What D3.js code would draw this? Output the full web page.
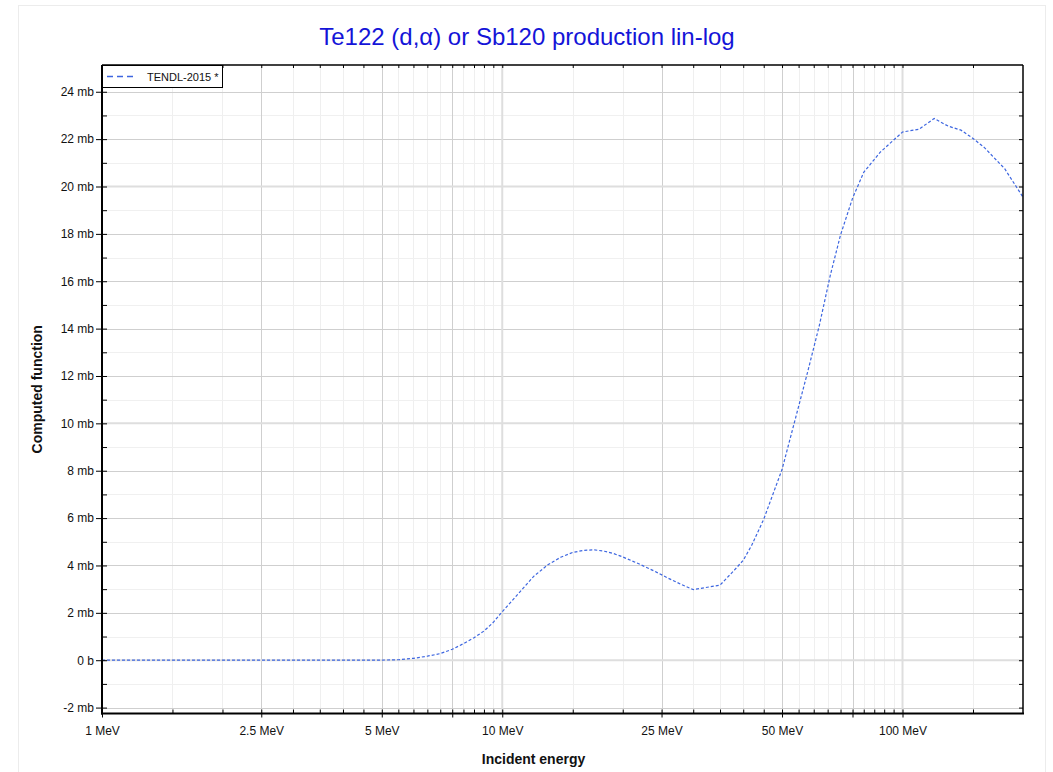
<!DOCTYPE html>
<html><head><meta charset="utf-8">
<script src="https://cdn.jsdelivr.net/npm/d3@7"></script>
<style>
body{margin:0;background:#fff;}
text{font-family:"Liberation Sans",Arial,Helvetica,sans-serif;}
</style>
</head><body>
<svg id="chart" width="1053" height="772"></svg>
<script>
// ---- data ----
const energyMeV = [1, 2, 3, 4, 5, 5.5, 6, 6.5, 7, 7.5, 8, 8.5, 9, 9.5, 10, 11, 12, 13, 14, 15, 16, 17, 18, 19, 20, 22, 24, 26, 28, 30, 35, 38, 40, 42, 45, 50, 54, 58, 62, 66, 70, 75, 80, 88, 100, 110, 120, 130, 140, 150, 160, 180, 200];
const crossSectionMb = [0, 0, 0, 0, 0.005, 0.02, 0.08, 0.17, 0.28, 0.46, 0.7, 0.95, 1.23, 1.6, 2.05, 2.83, 3.55, 4.03, 4.35, 4.55, 4.64, 4.66, 4.6, 4.5, 4.36, 4.06, 3.76, 3.46, 3.2, 2.98, 3.17, 3.8, 4.22, 4.85, 5.95, 8.05, 10.2, 12.2, 14.15, 16.25, 17.95, 19.5, 20.6, 21.45, 22.3, 22.42, 22.87, 22.55, 22.38, 22.03, 21.65, 20.75, 19.55];
const seriesName = "TENDL-2015 *";
const chartTitle = "Te122 (d,\u03b1) or Sb120 production lin-log";
const xTitle = "Incident energy";
const yTitle = "Computed function";

const xMajorTicks  = [1, 2.5, 5, 7.5, 10, 25, 50, 75, 100];
const xMajorLabels = ["1 MeV", "2.5 MeV", "5 MeV", "", "10 MeV", "25 MeV", "50 MeV", "", "100 MeV"];
const xMinorTicks  = [1.5, 2, 3, 3.5, 4, 4.5, 5.5, 6, 6.5, 7, 8, 8.5, 9, 9.5, 15, 20, 30, 35, 40, 45, 55, 60, 65, 70, 80, 85, 90, 95, 150];
const xDecadeLines = [10, 100];

const yMajorTicks  = [-2, 0, 2, 4, 6, 8, 10, 12, 14, 16, 18, 20, 22, 24];
const yMajorLabels = ["-2 mb", "0 b", "2 mb", "4 mb", "6 mb", "8 mb", "10 mb", "12 mb", "14 mb", "16 mb", "18 mb", "20 mb", "22 mb", "24 mb"];
const yMinorTicks  = [-1, 1, 3, 5, 7, 9, 11, 13, 15, 17, 19, 21, 23];
const yHeavyLines  = [0, 10, 20];

// ---- layout ----
const W = 1053, H = 772;
const L = 102, R = 1023, T = 65, B = 713.5;
const svg = d3.select("#chart");

const x = d3.scaleLog().domain([1, 200]).range([L, R]);
const y = d3.scaleLinear().domain([-2.25, 25.13]).range([B, T]);

// outer faint frame
svg.append("rect").attr("x", 18.5).attr("y", 5.5).attr("width", 1027).attr("height", 800)
  .attr("fill", "none").attr("stroke", "#ececec").attr("stroke-width", 1);

svg.append("defs").append("clipPath").attr("id", "plotclip")
  .append("rect").attr("x", L).attr("y", T).attr("width", R - L).attr("height", B - T);

const grid = svg.append("g").attr("clip-path", "url(#plotclip)");
// minor grid
grid.selectAll(".gxm").data(xMinorTicks).join("line")
  .attr("x1", d => Math.round(x(d)) + 0.5).attr("x2", d => Math.round(x(d)) + 0.5)
  .attr("y1", T).attr("y2", B).attr("stroke", "#efefef");
grid.selectAll(".gym").data(yMinorTicks).join("line")
  .attr("y1", d => Math.round(y(d)) + 0.5).attr("y2", d => Math.round(y(d)) + 0.5)
  .attr("x1", L).attr("x2", R).attr("stroke", "#f0f0f0");
// major grid
grid.selectAll(".gx").data(xMajorTicks.filter(d => !xDecadeLines.includes(d))).join("line")
  .attr("x1", d => Math.round(x(d)) + 0.5).attr("x2", d => Math.round(x(d)) + 0.5)
  .attr("y1", T).attr("y2", B).attr("stroke", "#cfcfcf");
grid.selectAll(".gy").data(yMajorTicks.filter(d => !yHeavyLines.includes(d))).join("line")
  .attr("y1", d => Math.round(y(d)) + 0.5).attr("y2", d => Math.round(y(d)) + 0.5)
  .attr("x1", L).attr("x2", R).attr("stroke", "#cfcfcf");
// heavy grid
grid.selectAll(".gxd").data(xDecadeLines).join("line")
  .attr("x1", d => x(d)).attr("x2", d => x(d))
  .attr("y1", T).attr("y2", B).attr("stroke", "#dedede").attr("stroke-width", 2);
grid.selectAll(".gyh").data(yHeavyLines).join("line")
  .attr("y1", d => y(d)).attr("y2", d => y(d))
  .attr("x1", L).attr("x2", R).attr("stroke", "#dedede").attr("stroke-width", 2);

// curve
const line = d3.line().x((d, i) => x(energyMeV[i])).y(d => y(d));
svg.append("g").attr("clip-path", "url(#plotclip)")
  .append("path").datum(crossSectionMb).attr("d", line)
  .attr("fill", "none").attr("stroke", "#3d66e0").attr("stroke-width", 1.2)
  .attr("stroke-dasharray", "3,2");

// axes
const allX = xMajorTicks.concat(xMinorTicks);
const allY = yMajorTicks.concat(yMinorTicks);
function clean(g){ g.select(".domain").remove(); g.selectAll("text").remove(); }

// bottom: major outward + labels
const xb = svg.append("g").attr("transform", `translate(0,${B})`)
  .call(d3.axisBottom(x).tickValues(xMajorTicks).tickSize(4).tickPadding(9)
    .tickFormat((d) => xMajorLabels[xMajorTicks.indexOf(d)]));
xb.select(".domain").remove();
xb.selectAll("text").attr("font-size", "12px").attr("fill", "#111")
  .style("font-family", "'Liberation Sans',Arial,sans-serif");
// bottom inward ticks
svg.append("g").attr("transform", `translate(0,${B})`)
  .call(d3.axisTop(x).tickValues(allX).tickSize(4).tickFormat("")).call(clean);
// top inward ticks
svg.append("g").attr("transform", `translate(0,${T})`)
  .call(d3.axisBottom(x).tickValues(allX).tickSize(3).tickFormat("")).call(clean);

// left: major outward + labels
const yl = svg.append("g").attr("transform", `translate(${L},0)`)
  .call(d3.axisLeft(y).tickValues(yMajorTicks).tickSize(6).tickPadding(2)
    .tickFormat(d => yMajorLabels[yMajorTicks.indexOf(d)]));
yl.select(".domain").remove();
yl.selectAll("text").attr("font-size", "12px").attr("fill", "#111")
  .style("font-family", "'Liberation Sans',Arial,sans-serif");
svg.append("g").attr("transform", `translate(${L},0)`)
  .call(d3.axisRight(y).tickValues(allY).tickSize(5).tickFormat("")).call(clean);
// right inward ticks
svg.append("g").attr("transform", `translate(${R},0)`)
  .call(d3.axisLeft(y).tickValues(allY).tickSize(4).tickFormat("")).call(clean);

// frame
svg.append("line").attr("x1", L).attr("x2", L).attr("y1", T).attr("y2", B + 1).attr("stroke", "#000").attr("stroke-width", 2);
svg.append("line").attr("x1", L - 1).attr("x2", R + 1).attr("y1", B).attr("y2", B).attr("stroke", "#000").attr("stroke-width", 2);
svg.append("line").attr("x1", L).attr("x2", R).attr("y1", T).attr("y2", T).attr("stroke", "#000").attr("stroke-width", 1.5);
svg.append("line").attr("x1", R).attr("x2", R).attr("y1", T).attr("y2", B).attr("stroke", "#000").attr("stroke-width", 1.5);

// legend
const lg = svg.append("g");
lg.append("rect").attr("x", L + 0.5).attr("y", T + 0.5).attr("width", 120).attr("height", 22)
  .attr("fill", "#fff").attr("stroke", "#000").attr("stroke-width", 1);
lg.append("line").attr("x1", L + 5).attr("x2", L + 32).attr("y1", T + 11.5).attr("y2", T + 11.5)
  .attr("stroke", "#3d66e0").attr("stroke-width", 1.6).attr("stroke-dasharray", "6,4");
lg.append("text").attr("x", L + 45).attr("y", T + 15.5).attr("font-size", "11px").attr("fill", "#111")
  .text(seriesName);

// titles
svg.append("text").attr("x", 527).attr("y", 45).attr("text-anchor", "middle")
  .attr("font-size", "24px").attr("fill", "#1414d8").text(chartTitle);
svg.append("text").attr("x", 533.5).attr("y", 764).attr("text-anchor", "middle")
  .attr("font-size", "14px").attr("font-weight", "bold").attr("fill", "#111").text(xTitle);
svg.append("text").attr("transform", `translate(42,${(T + B) / 2}) rotate(-90)`).attr("text-anchor", "middle")
  .attr("font-size", "14px").attr("font-weight", "bold").attr("fill", "#111").text(yTitle);
</script>
</body></html>
